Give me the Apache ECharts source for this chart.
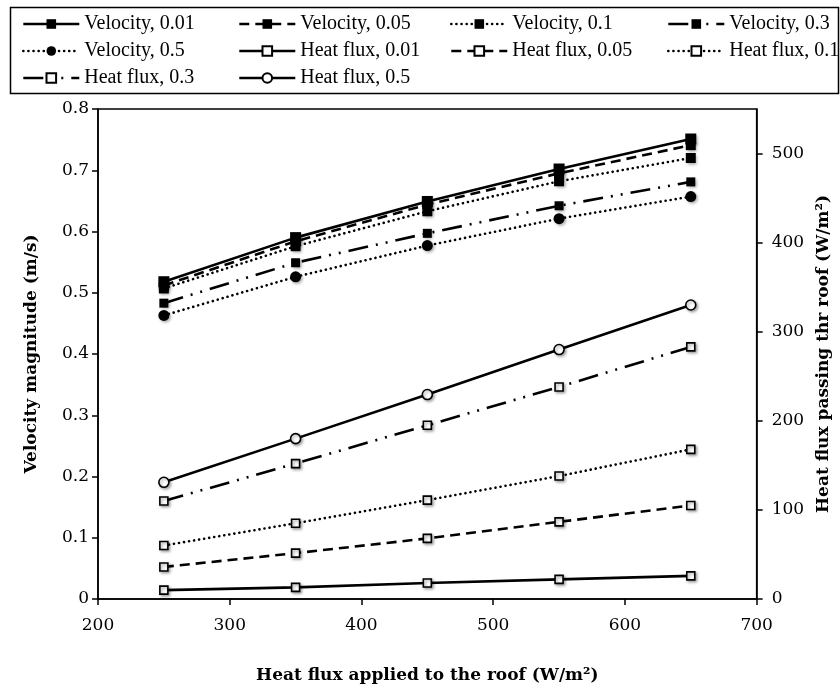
<!DOCTYPE html>
<html>
<head>
<meta charset="utf-8">
<script src="https://cdn.jsdelivr.net/npm/echarts@6/dist/echarts.min.js"></script>
<style>html,body{margin:0;padding:0;background:#fff}#c{width:840px;height:689px}</style>
</head>
<body>
<div id="c"></div>
<script>
// ---- data ----
const xs = [250, 350, 450, 550, 650];
const velocity001 = [0.518, 0.590, 0.649, 0.702, 0.751];
const velocity005 = [0.512, 0.584, 0.644, 0.695, 0.741];
const velocity01  = [0.507, 0.576, 0.633, 0.682, 0.720];
const velocity03  = [0.483, 0.549, 0.597, 0.642, 0.681];
const velocity05  = [0.463, 0.526, 0.577, 0.621, 0.657];
const heat001 = [10, 13, 18, 22, 26];
const heat005 = [36, 51.5, 68, 86.6, 105];
const heat01  = [60, 85, 111, 138, 168];
const heat03  = [110, 152, 195, 238, 283];
const heat05  = [131, 180, 229.5, 280, 330];
const seriesNames = ['Velocity, 0.01','Velocity, 0.05','Velocity, 0.1','Velocity, 0.3','Velocity, 0.5',
  'Heat flux, 0.01','Heat flux, 0.05','Heat flux, 0.1','Heat flux, 0.3','Heat flux, 0.5'];
const rightTicks = [0, 100, 200, 300, 400, 500];

// ---- styles ----
const SOLID = 'solid', DASH = [10, 6], DOT = [0.1, 5], DASHDOTDOT = [20, 8, 2, 8, 2, 8];
const shadow = {shadowBlur: 3, shadowColor: 'rgba(0,0,0,0.35)', shadowOffsetX: 1.5, shadowOffsetY: 1.5};
function mk(name, vals, yIdx, dash, symbol, size, filled) {
  return {
    name: name, type: 'line', yAxisIndex: yIdx,
    data: xs.map((x, i) => [x, vals[i]]),
    symbol: symbol, symbolSize: size, showSymbol: true,
    lineStyle: {color: '#000', width: 2.6, type: dash, cap: dash === DOT ? 'round' : 'butt'},
    itemStyle: Object.assign({color: filled ? '#000' : '#fff', borderColor: '#000', borderWidth: filled ? 0 : 1.6, opacity: 1}, shadow),
    emphasis: {disabled: true},
    animation: false
  };
}
const series = [
  mk(seriesNames[0], velocity001, 0, SOLID, 'rect', 11, true),
  mk(seriesNames[1], velocity005, 0, DASH, 'rect', 10, true),
  mk(seriesNames[2], velocity01, 0, DOT, 'rect', 10, true),
  mk(seriesNames[3], velocity03, 0, DASHDOTDOT, 'rect', 9, true),
  mk(seriesNames[4], velocity05, 0, DOT, 'circle', 11, true),
  mk(seriesNames[5], heat001, 1, SOLID, 'rect', 8, false),
  mk(seriesNames[6], heat005, 1, DASH, 'rect', 8, false),
  mk(seriesNames[7], heat01, 1, DOT, 'rect', 8, false),
  mk(seriesNames[8], heat03, 1, DASHDOTDOT, 'rect', 8, false),
  mk(seriesNames[9], heat05, 1, SOLID, 'circle', 10, false)
];

const legendText = {fontFamily: 'Liberation Serif', fontSize: 20, lineHeight: 20, color: '#000'};
function leg(left, names) {
  return {
    orient: 'vertical', left: left, top: 14, padding: 0,
    itemWidth: 56, itemHeight: 12, itemGap: 7,
    lineStyle: {width: 2.6},
    textStyle: legendText, selectedMode: false,
    data: names
  };
}
const legends = [
  leg(22, [seriesNames[0], seriesNames[4], seriesNames[8]]),
  leg(238, [seriesNames[1], seriesNames[5], seriesNames[9]]),
  leg(450, [seriesNames[2], seriesNames[6]]),
  leg(667, [seriesNames[3], seriesNames[7]])
];

const tickFont = {fontFamily: 'DejaVu Serif', fontSize: 17, color: '#000'};
const nameFont = {fontFamily: 'DejaVu Serif', fontSize: 17, fontWeight: 'bold', color: '#000'};
const axisLine = {show: true, lineStyle: {color: '#000', width: 1.5}};
const axisTick = {show: true, inside: false, length: 6, lineStyle: {color: '#000', width: 1.5}};

const option = {
  backgroundColor: '#fff',
  animation: false,
  graphic: [{type: 'rect', left: 8, top: 5, shape: {width: 828, height: 86}, style: {fill: 'none', stroke: '#000', lineWidth: 1.5}, silent: true}],
  legend: legends,
  grid: {left: 98, right: 81, top: 109, bottom: 89, show: true, borderColor: '#000', borderWidth: 1.5, containLabel: false},
  xAxis: {
    type: 'value', min: 200, max: 700, interval: 100,
    name: 'Heat flux applied to the roof (W/m²)', nameLocation: 'middle', nameGap: 68, nameTextStyle: nameFont,
    axisLine: axisLine, axisTick: axisTick, axisLabel: Object.assign({margin: 18}, tickFont), splitLine: {show: false}
  },
  yAxis: [{
    type: 'value', min: 0, max: 0.8, interval: 0.1, position: 'left',
    name: 'Velocity magnitude (m/s)', nameLocation: 'middle', nameGap: 58, nameTextStyle: nameFont,
    axisLine: axisLine, axisTick: axisTick, axisLabel: Object.assign({margin: 9, formatter: v => v === 0 ? '0' : v.toFixed(1)}, tickFont), splitLine: {show: false}
  }, {
    type: 'value', min: 0, max: 550, interval: 100, position: 'right',
    name: 'Heat flux passing thr roof (W/m²)', nameLocation: 'middle', nameGap: 58, nameRotate: 90, nameTextStyle: nameFont,
    axisLine: axisLine,
    axisTick: Object.assign({customValues: rightTicks}, axisTick),
    axisLabel: Object.assign({margin: 15, customValues: rightTicks}, tickFont), splitLine: {show: false}
  }],
  series: series
};
const chart = echarts.init(document.getElementById('c'), null, {renderer: 'canvas'});
chart.setOption(option);
</script>
</body>
</html>
